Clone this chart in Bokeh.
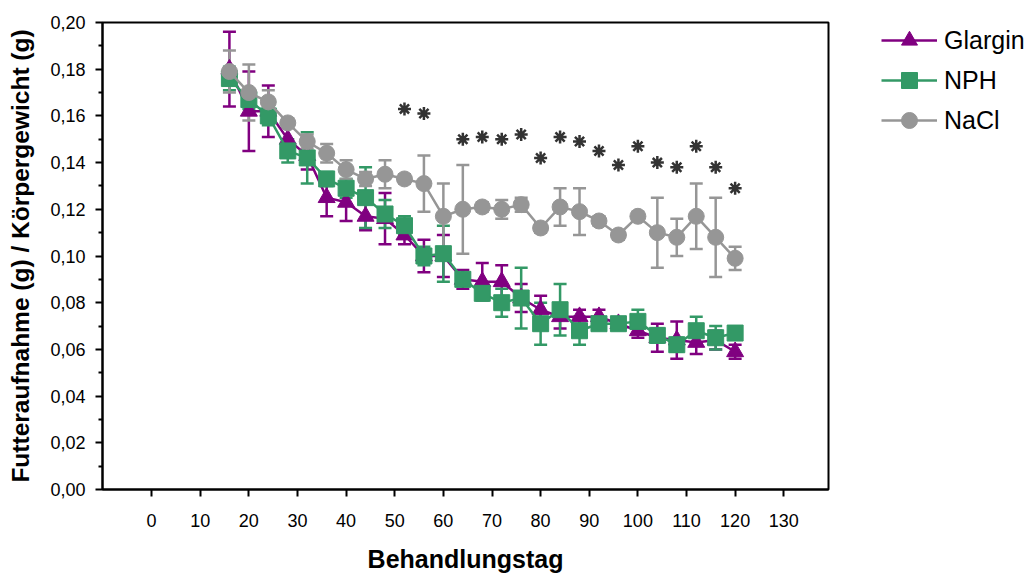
from bokeh.plotting import figure
from bokeh.models import (ColumnDataSource, Whisker, TeeHead, FixedTicker,
                          CustomJSTickFormatter, Legend, LegendItem, Range1d)
from bokeh.embed import file_html
from bokeh.resources import INLINE

# ---- data ----
days = [16, 20, 24, 28, 32, 36, 40, 44, 48, 52, 56, 60, 64, 68, 72, 76, 80, 84,
        88, 92, 96, 100, 104, 108, 112, 116, 120]

glargin = [0.180, 0.162, 0.162, 0.150, 0.143, 0.125, 0.123, 0.117, 0.116, 0.109,
           0.100, 0.100, 0.090, 0.089, 0.089, 0.082, 0.077, 0.074, 0.074, 0.074,
           0.071, 0.068, 0.065, 0.064, 0.063, 0.064, 0.059]
glargin_err = [0.016, 0.017, 0.011, 0.006, 0.006, 0.008, 0.008, 0.006, 0.011, 0.004,
               0.007, 0.009, 0.004, 0.008, 0.007, 0.006, 0.006, 0.005, 0.003, 0.003,
               0.002, 0.003, 0.006, 0.008, 0.005, 0.004, 0.003]

nph = [0.176, 0.167, 0.160, 0.145, 0.142, 0.133, 0.129, 0.125, 0.118, 0.113,
       0.100, 0.101, 0.090, 0.084, 0.080, 0.082, 0.071, 0.077, 0.068, 0.071,
       0.071, 0.072, 0.066, 0.062, 0.068, 0.065, 0.067]
nph_err = [0.005, 0.004, 0.004, 0.005, 0.011, 0.003, 0.004, 0.013, 0.006, 0.004,
           0.004, 0.012, 0.002, 0.003, 0.006, 0.013, 0.009, 0.011, 0.006, 0.002,
           0.002, 0.005, 0.003, 0.003, 0.006, 0.005, 0.002]

nacl = [0.179, 0.170, 0.166, 0.157, 0.149, 0.144, 0.137, 0.133, 0.135, 0.133,
        0.131, 0.117, 0.120, 0.121, 0.120, 0.122, 0.112, 0.121, 0.119, 0.115,
        0.109, 0.117, 0.110, 0.108, 0.117, 0.108, 0.099]
nacl_err = [0.009, 0.012, 0.005, 0.002, 0.003, 0.004, 0.004, 0.003, 0.006, 0.002,
            0.012, 0.014, 0.019, 0.002, 0.004, 0.003, 0.002, 0.008, 0.010, 0.002,
            0.002, 0.002, 0.015, 0.008, 0.014, 0.017, 0.005]

sig_days = [52, 56, 64, 68, 72, 76, 80, 84, 88, 92, 96, 100, 104, 108, 112, 116, 120]
sig_y = [0.163, 0.161, 0.150, 0.151, 0.150, 0.152, 0.142, 0.151, 0.149, 0.145,
         0.139, 0.147, 0.140, 0.138, 0.147, 0.138, 0.129]

x_ticks = [0, 10, 20, 30, 40, 50, 60, 70, 80, 90, 100, 110, 120, 130]
y_ticks = [0.00, 0.02, 0.04, 0.06, 0.08, 0.10, 0.12, 0.14, 0.16, 0.18, 0.20]
y_minor = [0.01, 0.03, 0.05, 0.07, 0.09, 0.11, 0.13, 0.15, 0.17, 0.19]

FONT = "Liberation Sans"

p = figure(frame_width=726, frame_height=467,
           x_range=Range1d(-10.1, 139.2), y_range=Range1d(0, 0.2),
           output_backend="svg", toolbar_location=None,
           min_border_left=102, min_border_right=202,
           min_border_top=22, min_border_bottom=0)
p.xgrid.visible = False
p.ygrid.visible = False
p.outline_line_color = "black"
p.outline_line_width = 2
p.background_fill_color = "white"

# axes
for ax in (p.xaxis, p.yaxis):
    ax.axis_line_width = 2
    ax.axis_line_color = "black"
    ax.major_tick_line_width = 2
    ax.minor_tick_line_width = 2
    ax.major_tick_in = 0
    ax.major_tick_out = 7
    ax.minor_tick_in = 0
    ax.minor_tick_out = 4
    ax.major_label_text_font = FONT
    ax.major_label_text_font_size = "18px"
    ax.major_label_text_color = "black"
    ax.axis_label_text_font = FONT
    ax.axis_label_text_font_style = "bold"
    ax.axis_label_text_color = "black"

p.xaxis.ticker = FixedTicker(ticks=x_ticks)
p.xaxis.major_label_standoff = 17
p.xaxis.minor_tick_out = 0
p.xaxis.axis_label = "Behandlungstag"
p.xaxis.axis_label_text_font_size = "25px"
p.xaxis.axis_label_standoff = 15

p.yaxis.ticker = FixedTicker(ticks=y_ticks, minor_ticks=y_minor)
p.yaxis.formatter = CustomJSTickFormatter(code="return tick.toFixed(2).replace('.', ',');")
p.yaxis.major_label_standoff = 10
p.yaxis.axis_label = "Futteraufnahme (g) / Körpergewicht (g)"
p.yaxis.axis_label_text_font_size = "24.5px"
p.yaxis.axis_label_standoff = 13


def add_series(vals, errs, color, marker, size, label):
    src = ColumnDataSource(dict(
        x=days, y=vals,
        up=[v + e for v, e in zip(vals, errs)],
        lo=[v - e for v, e in zip(vals, errs)]))
    w = Whisker(source=src, base="x", upper="up", lower="lo",
                line_color=color, line_width=2.5,
                upper_head=TeeHead(size=13, line_color=color, line_width=2.5),
                lower_head=TeeHead(size=13, line_color=color, line_width=2.5))
    p.add_layout(w)
    ln = p.line("x", "y", source=src, line_color=color, line_width=2.5)
    sc = p.scatter("x", "y", source=src, marker=marker, size=size,
                   fill_color=color, line_color=color)
    return LegendItem(label=label, renderers=[ln, sc])


items = [
    add_series(glargin, glargin_err, "#800080", "triangle", 17, "Glargin"),
    add_series(nph, nph_err, "#339966", "square", 16, "NPH"),
    add_series(nacl, nacl_err, "#969696", "circle", 16, "NaCl"),
]

p.scatter(sig_days, sig_y, marker="asterisk", size=13,
          line_color="#333333", line_width=2.5)

legend = Legend(items=items, location=(53, 349),
                glyph_width=56, glyph_height=40, label_height=40,
                spacing=0, padding=0, margin=25, label_standoff=7,
                label_text_font=FONT, label_text_font_size="25px",
                label_text_color="black",
                border_line_color=None, background_fill_alpha=0)
p.add_layout(legend, "right")

open("out.html", "w").write(file_html(p, INLINE))
